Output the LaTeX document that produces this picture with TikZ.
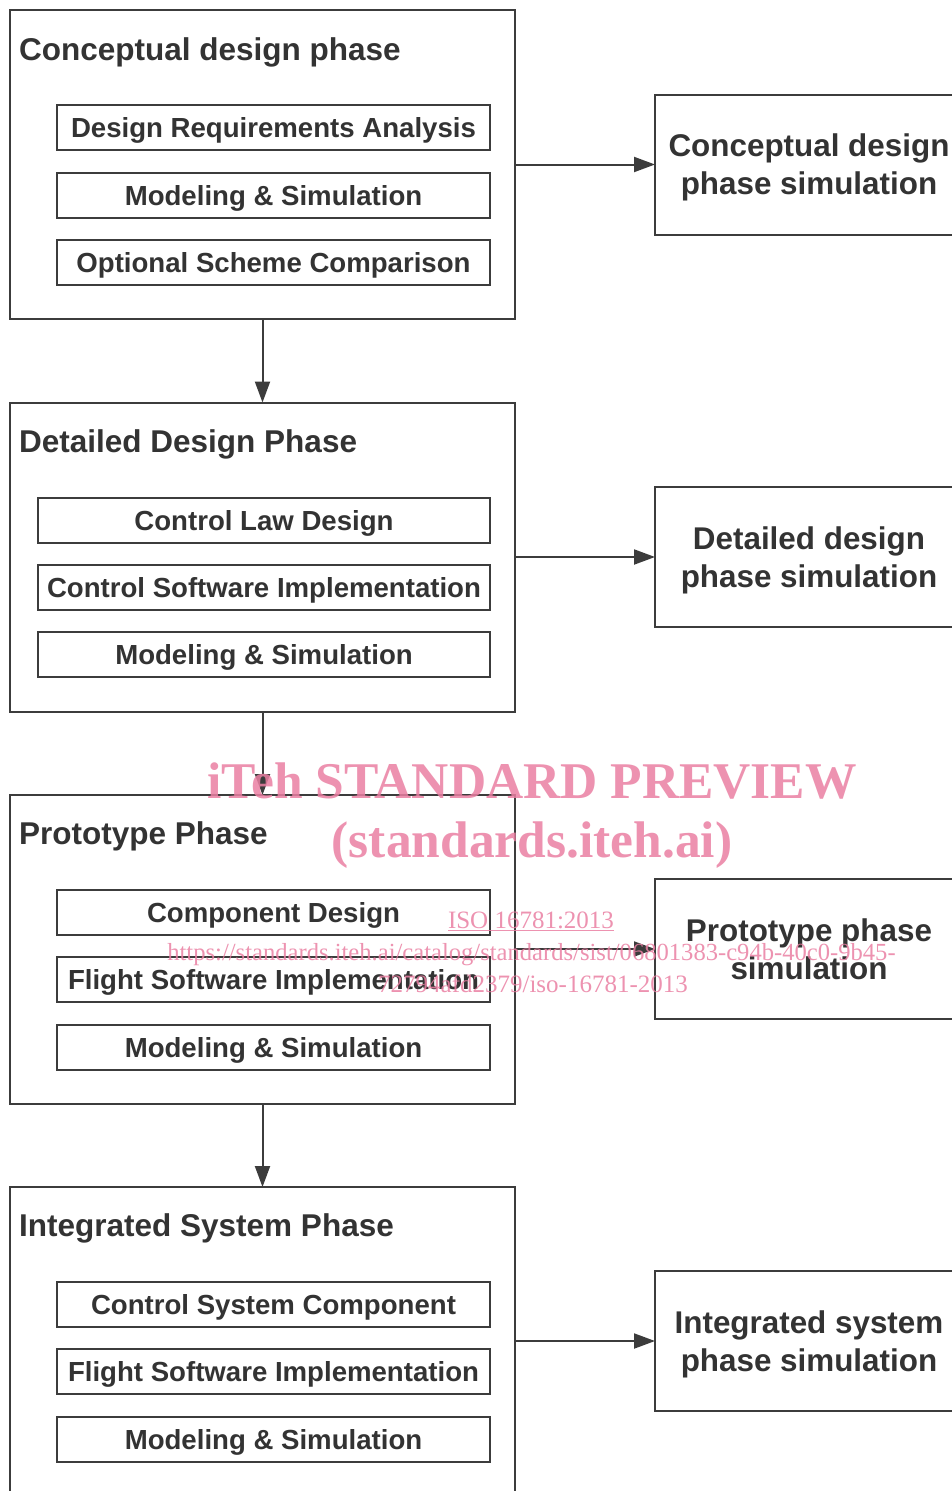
\documentclass[tikz,border=0pt]{standalone}
\usepackage{fontspec}
\setmainfont{Liberation Sans}
\newfontfamily\wmfont{Liberation Serif}
\usetikzlibrary{arrows.meta}
\definecolor{lc}{HTML}{3C3C3C}
\definecolor{tc}{HTML}{333333}
\definecolor{wm}{RGB}{234,128,163}
\begin{document}
\begin{tikzpicture}[x=1pt,y=-1pt,
  phase/.style={draw=lc, line width=2pt, outer sep=0pt, minimum width=505pt, minimum height=309pt, inner sep=0pt, anchor=north west},
  ptitle/.style={anchor=base west, inner sep=0pt, text=tc, font=\fontsize{31.5}{36}\selectfont\bfseries},
  sub/.style={draw=lc, line width=2pt, outer sep=0pt, minimum width=#1, minimum height=45pt, inner sep=0pt, anchor=north west, text=tc, font=\fontsize{27.6}{32}\selectfont\bfseries, text height=20pt, text depth=0pt},
  sim/.style={draw=lc, line width=2pt, outer sep=0pt, minimum width=308pt, minimum height=140pt, inner sep=0pt, anchor=north west, align=center, text=tc, font=\fontsize{31.4}{38}\selectfont\bfseries, text depth=0pt},
  arr/.style={draw=lc, line width=2pt, -{Triangle[length=21pt,width=15pt]}},
  wmbig/.style={text=wm, opacity=0.85, anchor=base, inner sep=0pt, font=\wmfont\fontsize{51.5}{51}\selectfont\bfseries},
  wmsmall/.style={text=wm, opacity=0.85, anchor=base, inner sep=0pt, font=\wmfont\fontsize{25}{25}\selectfont}
]
\clip (0,0) rectangle (952,1491);
\fill[white] (0,0) rectangle (952,1491);

% phase boxes
\node[phase] (p1) at (10,10) {};
\node[phase] (p2) at (10,402.5) {};
\node[phase] (p3) at (10,795) {};
\node[phase] (p4) at (10,1187) {};

\node[ptitle] (t1) at (19,60) {Conceptual design phase};
\node[ptitle] (t2) at (19,452) {Detailed Design Phase};
\node[ptitle] (t3) at (19,844) {Prototype Phase};
\node[ptitle] (t4) at (19,1236) {Integrated System Phase};

% sub boxes
\node[sub=433pt] (a1) at (57,105) {Design Requirements Analysis};
\node[sub=433pt] (a2) at (57,172.5) {Modeling \& Simulation};
\node[sub=433pt] (a3) at (57,240) {Optional Scheme Comparison};

\node[sub=452pt] (b1) at (38,497.5) {Control Law Design};
\node[sub=452pt] (b2) at (38,564.5) {Control Software Implementation};
\node[sub=452pt] (b3) at (38,632) {Modeling \& Simulation};

\node[sub=433pt] (c1) at (57,890) {Component Design};
\node[sub=433pt] (c2) at (57,957) {Flight Software Implementation};
\node[sub=433pt] (c3) at (57,1024.5) {Modeling \& Simulation};

\node[sub=433pt] (d1) at (57,1282) {Control System Component};
\node[sub=433pt] (d2) at (57,1349) {Flight Software Implementation};
\node[sub=433pt] (d3) at (57,1416.5) {Modeling \& Simulation};

% simulation boxes
\node[sim] (s1) at (655,94.5) {Conceptual design\\phase simulation};
\node[sim] (s2) at (655,487) {Detailed design\\phase simulation};
\node[sim] (s3) at (655,879) {Prototype phase\\simulation};
\node[sim] (s4) at (655,1271) {Integrated system\\phase simulation};

% connectors
\draw[arr] (p1.south) -- (p2.north);
\draw[arr] (p2.south) -- (p3.north);
\draw[arr] (p3.south) -- (p4.north);
\draw[arr] (p1.east |- s1.west) -- (s1.west);
\draw[arr] (p2.east |- s2.west) -- (s2.west);
\draw[arr] (p3.east |- s3.west) -- (s3.west);
\draw[arr] (p4.east |- s4.west) -- (s4.west);

% watermark
\node[wmbig] (w1) at (532,798) {iTeh STANDARD PREVIEW};
\node[wmbig] (w2) at (532,857) {(standards.iteh.ai)};
\node[wmsmall] (w3) at (531,928) {\underline{ISO 16781:2013}};
\node[wmsmall, font=\wmfont\fontsize{24.6}{25}\selectfont] (w4) at (531.5,960) {https://standards.iteh.ai/catalog/standards/sist/06801383-c94b-40c0-9b45-};
\node[wmsmall] (w5) at (533,992) {72794afd2379/iso-16781-2013};
\end{tikzpicture}
\end{document}
